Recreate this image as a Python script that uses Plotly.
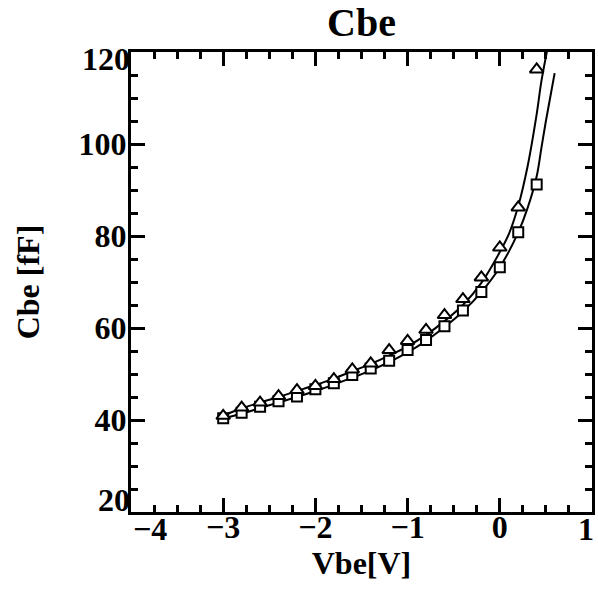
import plotly.graph_objects as go

# measured data points
v_meas = [-3.0, -2.8, -2.6, -2.4, -2.2, -2.0, -1.8, -1.6, -1.4, -1.2,
          -1.0, -0.8, -0.6, -0.4, -0.2, 0.0, 0.2, 0.4]
cbe_tri = [40.9, 42.7, 43.8, 45.2, 46.5, 47.4, 48.9, 51.0, 52.3, 55.2,
           57.2, 59.6, 62.8, 66.3, 71.0, 77.5, 86.2, 116.2]
cbe_sq = [40.4, 41.6, 42.9, 44.1, 45.1, 46.7, 48.0, 49.8, 51.2, 52.9,
          55.2, 57.4, 60.4, 63.8, 67.8, 73.2, 80.8, 91.2]

# model curves
v_model_tri = [-3.0, -2.8, -2.6, -2.4, -2.2, -2.0, -1.8, -1.6, -1.4, -1.2,
               -1.0, -0.8, -0.6, -0.4, -0.2, 0.0, 0.1, 0.2, 0.3, 0.4, 0.45, 0.515]
cbe_model_tri = [41.0, 42.5, 43.8, 45.0, 46.3, 47.6, 49.0, 50.6, 52.2, 54.0,
                 56.0, 58.5, 61.5, 65.0, 69.8, 76.5, 80.5, 86.5, 95.0, 106.5, 113.5, 120.5]
v_model_sq = [-3.0, -2.8, -2.6, -2.4, -2.2, -2.0, -1.8, -1.6, -1.4, -1.2,
              -1.0, -0.8, -0.6, -0.4, -0.2, 0.0, 0.2, 0.3, 0.4, 0.45, 0.5, 0.55, 0.595]
cbe_model_sq = [40.3, 41.4, 42.6, 43.8, 45.0, 46.3, 47.7, 49.2, 50.8, 52.6,
                54.7, 57.2, 60.2, 63.6, 67.8, 73.2, 80.8, 86.0, 93.0, 99.0, 105.0, 110.5, 115.4]

x_ticks = [-4, -3, -2, -1, 0, 1]
x_labels = ["", "\u22123", "\u22122", "\u22121", "0", ""]
y_ticks = [20, 40, 60, 80, 100, 120]
y_labels = ["", "40", "60", "80", "100", ""]

FONT = "Liberation Serif, Times New Roman, Times, serif"
fig = go.Figure()
fig.add_trace(go.Scatter(x=v_model_tri, y=cbe_model_tri, mode="lines",
                         line=dict(color="black", width=2, shape="spline"),
                         showlegend=False, hoverinfo="skip"))
fig.add_trace(go.Scatter(x=v_model_sq, y=cbe_model_sq, mode="lines",
                         line=dict(color="black", width=2, shape="spline"),
                         showlegend=False, hoverinfo="skip"))
fig.add_trace(go.Scatter(x=v_meas, y=cbe_sq, mode="markers",
                         marker=dict(symbol="square", size=10, color="white",
                                     line=dict(color="black", width=2)),
                         showlegend=False))
fig.add_trace(go.Scatter(x=v_meas, y=cbe_tri, mode="markers",
                         marker=dict(symbol="triangle-up", size=12, color="white",
                                     line=dict(color="black", width=2)),
                         showlegend=False))

axis_common = dict(showgrid=False, zeroline=False, showline=True, linecolor="black",
                   linewidth=3, mirror="allticks", ticks="inside", ticklen=14,
                   tickwidth=3, tickcolor="black", automargin=False,
                   tickfont=dict(family=FONT, size=32, color="black", weight="bold"))

fig.update_xaxes(range=[-4, 1], tickmode="array", tickvals=x_ticks, ticktext=x_labels,
                 ticklabelstandoff=-15,
                 minor=dict(dtick=0.25, ticks="inside", ticklen=7, tickwidth=3,
                            tickcolor="black", showgrid=False),
                 title=dict(text="Vbe[V]", font=dict(family=FONT, size=32, color="black",
                                                     weight="bold"), standoff=0),
                 **axis_common)
fig.update_yaxes(range=[20, 120], tickmode="array", tickvals=y_ticks, ticktext=y_labels,
                 ticklabelstandoff=-5,
                 minor=dict(dtick=5, ticks="inside", ticklen=7, tickwidth=3,
                            tickcolor="black", showgrid=False),
                 title=dict(text="Cbe [fF]", font=dict(family=FONT, size=32, color="black",
                                                       weight="bold"), standoff=30),
                 **axis_common)

lab_font = dict(family=FONT, size=32, color="black", weight="bold")
fig.add_annotation(x=-4, y=0, xref="x", yref="paper", text="\u22124", showarrow=False,
                   xanchor="left", yanchor="top", yshift=3, font=lab_font)
fig.add_annotation(x=1, y=0, xref="x", yref="paper", text="1", showarrow=False,
                   xanchor="right", yanchor="top", xshift=4, yshift=3, font=lab_font)
fig.add_annotation(x=0, y=120, xref="paper", yref="y", text="120", showarrow=False,
                   xanchor="right", yanchor="top", xshift=1, yshift=13, font=lab_font)
fig.add_annotation(x=0, y=20, xref="paper", yref="y", text="20", showarrow=False,
                   xanchor="right", yanchor="bottom", xshift=1, yshift=-8, font=lab_font)

fig.update_layout(
    width=598, height=592,
    margin=dict(l=131, r=6, t=52, b=80, autoexpand=False),
    paper_bgcolor="white", plot_bgcolor="white",
    title=dict(text="Cbe", x=0.5, xref="paper", xanchor="center",
               y=1 - 22 / 592, yref="container", yanchor="middle",
               font=dict(family=FONT, size=40, color="black", weight="bold")),
)

fig.write_html("out.html")
